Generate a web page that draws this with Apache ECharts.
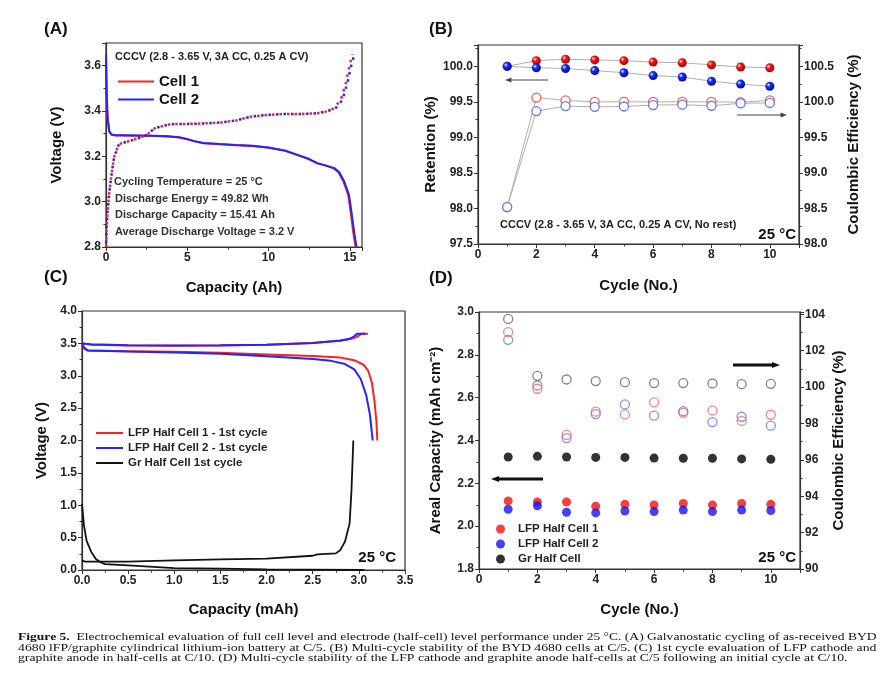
<!DOCTYPE html>
<html>
<head>
<meta charset="utf-8">
<script src="https://cdn.jsdelivr.net/npm/echarts@6/dist/echarts.min.js"></script>
<style>
  html, body { margin: 0; padding: 0; background: #fff; }
  #main { width: 896px; height: 691px; }
</style>
</head>
<body>
<div id="main"></div>
<script>
// ---- (A) full cell galvanostatic curves ----
const capDis1 = [0, 0.02, 0.05, 0.1, 0.2, 0.35, 0.6, 1, 2, 3, 3.8, 4.5, 5, 5.5, 6, 7, 8, 9, 10, 11, 12, 12.5, 13, 13.5, 14, 14.3, 14.6, 14.9, 15.08, 15.22, 15.36];
const vDis1   = [3.65, 3.55, 3.45, 3.37, 3.31, 3.295, 3.292, 3.292, 3.291, 3.29, 3.288, 3.283, 3.275, 3.265, 3.258, 3.253, 3.249, 3.246, 3.238, 3.225, 3.2, 3.187, 3.169, 3.159, 3.147, 3.13, 3.09, 3.03, 2.94, 2.86, 2.8];
const capDis2 = [0, 0.02, 0.05, 0.1, 0.2, 0.35, 0.6, 1, 2, 3, 3.8, 4.5, 5, 5.5, 6, 7, 8, 9, 10, 11, 12, 12.5, 13, 13.5, 14.05, 14.35, 14.65, 14.95, 15.13, 15.28, 15.41];
const vDis2   = [3.65, 3.55, 3.45, 3.37, 3.31, 3.296, 3.293, 3.293, 3.292, 3.291, 3.289, 3.284, 3.276, 3.266, 3.259, 3.254, 3.25, 3.247, 3.239, 3.226, 3.201, 3.188, 3.17, 3.16, 3.148, 3.13, 3.09, 3.03, 2.94, 2.86, 2.8];
const capChg1 = [0, 0.03, 0.1, 0.2, 0.35, 0.5, 0.8, 1.5, 2, 2.5, 3, 3.5, 4, 5, 6, 7, 8, 8.5, 9, 10, 11, 12, 13, 13.5, 14, 14.45, 14.75, 14.95, 15.15];
const vChg1   = [2.8, 2.88, 2.96, 3.04, 3.125, 3.198, 3.254, 3.269, 3.28, 3.294, 3.324, 3.334, 3.342, 3.343, 3.345, 3.349, 3.358, 3.368, 3.376, 3.383, 3.387, 3.387, 3.39, 3.397, 3.411, 3.449, 3.523, 3.59, 3.65];
const capChg2 = [0, 0.03, 0.1, 0.2, 0.35, 0.5, 0.8, 1.5, 2, 2.5, 3, 3.5, 4, 5, 6, 7, 8, 8.5, 9, 10, 11, 12, 13, 13.5, 14.1, 14.55, 14.85, 15.05, 15.28];
const vChg2   = [2.8, 2.88, 2.96, 3.04, 3.125, 3.198, 3.254, 3.269, 3.28, 3.294, 3.324, 3.334, 3.342, 3.343, 3.345, 3.349, 3.358, 3.368, 3.376, 3.383, 3.387, 3.387, 3.39, 3.397, 3.411, 3.449, 3.523, 3.59, 3.65];

// ---- (B) multi-cycle full cell ----
const cyclesB = [1, 2, 3, 4, 5, 6, 7, 8, 9, 10];
const retention1 = [100.0, 100.08, 100.10, 100.09, 100.08, 100.06, 100.05, 100.02, 99.99, 99.98];
const retention2 = [100.0, 99.98, 99.97, 99.94, 99.91, 99.87, 99.85, 99.79, 99.75, 99.72];
const ceFull1 = [98.52, 100.06, 100.02, 100.0, 100.0, 100.0, 100.0, 100.0, 99.995, 100.02];
const ceFull2 = [98.52, 99.87, 99.94, 99.93, 99.935, 99.955, 99.96, 99.945, 99.98, 99.985];

// ---- (C) half cell first cycle ----
const lfp1ChgCap = [0, 0.1, 0.5, 1.0, 1.5, 2.0, 2.5, 2.8, 2.92, 2.98, 3.03, 3.1];
const lfp1ChgV   = [3.5, 3.48, 3.468, 3.465, 3.468, 3.478, 3.505, 3.54, 3.57, 3.6, 3.65, 3.65];
const lfp1DisCap = [0, 0.03, 0.07, 0.5, 1.0, 1.5, 2.0, 2.5, 2.8, 2.95, 3.05, 3.1, 3.14, 3.17, 3.19, 3.2];
const lfp1DisV   = [3.48, 3.41, 3.39, 3.38, 3.37, 3.355, 3.33, 3.305, 3.28, 3.24, 3.17, 3.08, 2.9, 2.6, 2.3, 2.0];
const lfp2ChgCap = [0, 0.1, 0.5, 1.0, 1.5, 2.0, 2.5, 2.8, 2.9, 2.95, 2.98, 3.07];
const lfp2ChgV   = [3.5, 3.485, 3.47, 3.468, 3.47, 3.48, 3.505, 3.545, 3.57, 3.61, 3.65, 3.65];
const lfp2DisCap = [0, 0.02, 0.06, 0.5, 1.0, 1.5, 2.0, 2.5, 2.7, 2.85, 2.95, 3.02, 3.08, 3.12, 3.15];
const lfp2DisV   = [3.5, 3.44, 3.39, 3.375, 3.36, 3.34, 3.30, 3.26, 3.23, 3.18, 3.1, 2.95, 2.7, 2.4, 2.0];
const grLithCap = [0, 0.02, 0.05, 0.1, 0.15, 0.2, 0.25, 0.5, 1.0, 1.5, 2.0, 2.5, 3.06];
const grLithV   = [1.02, 0.7, 0.45, 0.28, 0.17, 0.12, 0.09, 0.07, 0.03, 0.02, 0.01, 0.005, 0.0];
const grDelCap = [0, 0.03, 0.5, 1.0, 1.5, 2.0, 2.5, 2.55, 2.75, 2.8, 2.85, 2.9, 2.92, 2.94];
const grDelV   = [0.15, 0.13, 0.128, 0.149, 0.165, 0.175, 0.22, 0.24, 0.257, 0.31, 0.44, 0.72, 1.23, 2.0];

// ---- (D) half cell multi-cycle ----
const cyclesD = [1, 2, 3, 4, 5, 6, 7, 8, 9, 10];
const areal1 = [2.118, 2.113, 2.113, 2.093, 2.102, 2.099, 2.106, 2.099, 2.106, 2.102];
const areal2 = [2.079, 2.095, 2.065, 2.062, 2.071, 2.068, 2.075, 2.068, 2.075, 2.073];
const arealGr = [2.323, 2.326, 2.323, 2.321, 2.321, 2.318, 2.317, 2.317, 2.314, 2.312];
const ceHalf1 = [103.02, 99.91, 97.37, 98.65, 98.5, 99.16, 98.59, 98.72, 98.14, 98.48];
const ceHalf2 = [102.6, 100.09, 97.2, 98.52, 99.05, 98.43, 98.68, 98.08, 98.37, 97.88];
const ceHalfGr = [103.75, 100.62, 100.42, 100.33, 100.27, 100.22, 100.22, 100.2, 100.16, 100.18];

const SANS = 'Liberation Sans, Arial, sans-serif';
const SERIF = 'Liberation Serif, serif';
const RED = '#ff2020', BLUE = '#2424ff';

function pairs(xs, ys) { return xs.map((x, i) => [x, ys[i]]); }

// labels only at multiples of the step (hides the extra end tick)
function fmt(step, dec) {
  return function (v) {
    return Math.abs(v / step - Math.round(v / step)) < 1e-6 ? v.toFixed(dec) : '';
  };
}

function axis(o) {
  return Object.assign({
    type: 'value',
    axisLine: { show: true, onZero: false, lineStyle: { color: '#333', width: 1.2 } },
    axisTick: { show: true, inside: false, length: 4, lineStyle: { color: '#333' } },
    minorTick: { show: true, splitNumber: 2, length: 2.5, lineStyle: { color: '#333' } },
    splitLine: { show: false },
    nameLocation: 'middle',
    nameTextStyle: { color: '#111', fontSize: 15, fontWeight: 'bold', fontFamily: SANS }
  }, o);
}

function label(f) {
  return { color: '#222', fontSize: 12, fontWeight: 'bold', fontFamily: SANS, margin: 5, formatter: f };
}

function sphere(c1, c2) {
  return {
    type: 'radial', x: 0.35, y: 0.35, r: 0.75,
    colorStops: [{ offset: 0, color: '#ffffff' }, { offset: 0.3, color: c1 }, { offset: 1, color: c2 }]
  };
}

function arrow(x1, x2, y, w, head, color) {
  const dir = x2 > x1 ? 1 : -1;
  return [
    { type: 'line', shape: { x1: x1, y1: y, x2: x2 - dir * head, y2: y }, style: { stroke: color, lineWidth: w } },
    { type: 'polygon', shape: { points: [[x2, y], [x2 - dir * head * 1.6, y - head * 0.6], [x2 - dir * head * 1.6, y + head * 0.6]] }, style: { fill: color } }
  ];
}

function txt(x, y, s, font, align, color) {
  return { type: 'text', x: x, y: y, style: { text: s, font: font, fill: color || '#222', textAlign: align || 'left', textVerticalAlign: 'middle' } };
}

// caption line, stretched to the justified width of the printed figure
function capLine(y, s, sx) {
  return { type: 'text', x: 18, y: y, scaleX: sx, style: {
    text: s, rich: { b: { fontWeight: 'bold', fontFamily: SERIF, fontSize: 11 } },
    fontFamily: SERIF, fontSize: 11, fill: '#111', textVerticalAlign: 'middle' } };
}

const myChart = echarts.init(document.getElementById('main'));

const option = {
  animation: false,
  backgroundColor: '#fff',
  grid: [
    { left: 106, top: 43, width: 256, height: 204, show: true, borderColor: '#333', borderWidth: 1.2 },
    { left: 478, top: 45, width: 321, height: 199, show: true, borderColor: '#333', borderWidth: 1.2 },
    { left: 82, top: 311, width: 323, height: 259, show: true, borderColor: '#333', borderWidth: 1.2 },
    { left: 479, top: 312, width: 321, height: 257, show: true, borderColor: '#333', borderWidth: 1.2 }
  ],
  xAxis: [
    axis({ gridIndex: 0, min: 0, max: 15.75, interval: 5, name: 'Capacity (Ah)', nameGap: 33, axisLabel: label(fmt(5, 0)) }),
    axis({ gridIndex: 1, min: 0, max: 11, interval: 2, name: 'Cycle (No.)', nameGap: 34, axisLabel: label(fmt(2, 0)) }),
    axis({ gridIndex: 2, min: 0, max: 3.5, interval: 0.5, name: 'Capacity (mAh)', nameGap: 32, axisLabel: label(fmt(0.5, 1)) }),
    axis({ gridIndex: 3, min: 0, max: 11, interval: 2, name: 'Cycle (No.)', nameGap: 33, axisLabel: label(fmt(2, 0)) })
  ],
  yAxis: [
    axis({ gridIndex: 0, min: 2.8, max: 3.7, interval: 0.2, name: 'Voltage (V)', nameGap: 42, axisLabel: label(fmt(0.2, 1)) }),
    axis({ gridIndex: 1, min: 97.5, max: 100.3, interval: 0.5, name: 'Retention (%)', nameGap: 40, axisLabel: label(fmt(0.5, 1)) }),
    axis({ gridIndex: 1, position: 'right', min: 98.0, max: 100.8, interval: 0.5, name: 'Coulombic Efficiency (%)', nameGap: 47, axisLabel: label(fmt(0.5, 1)) }),
    axis({ gridIndex: 2, min: 0, max: 4, interval: 0.5, name: 'Voltage (V)', nameGap: 33, axisLabel: label(fmt(0.5, 1)) }),
    axis({ gridIndex: 3, min: 1.8, max: 3.0, interval: 0.2, name: 'Areal Capacity (mAh cm\u207B\u00B2)', nameGap: 36, axisLabel: label(fmt(0.2, 1)) }),
    axis({ gridIndex: 3, position: 'right', min: 90, max: 104.13, interval: 2, name: 'Coulombic Efficiency (%)', nameGap: 31, axisLabel: label(fmt(2, 0)) })
  ],
  legend: [
    { left: 112, top: 69, orient: 'vertical', itemWidth: 36, itemHeight: 14, itemGap: 3,
      itemStyle: { opacity: 0 },
      data: ['Cell 1', 'Cell 2'],
      textStyle: { fontSize: 15, fontWeight: 'bold', fontFamily: SANS, color: '#111' } },
    { left: 90, top: 422, orient: 'vertical', itemWidth: 27, itemHeight: 12, itemGap: 3,
      itemStyle: { opacity: 0 },
      data: ['LFP Half Cell 1 - 1st cycle', 'LFP Half Cell 2 - 1st cycle', 'Gr Half Cell 1st cycle'],
      textStyle: { fontSize: 11.5, fontWeight: 'bold', fontFamily: SANS, color: '#222' } },
    { left: 491, top: 518, orient: 'vertical', itemWidth: 9, itemHeight: 9, itemGap: 3, icon: 'circle',
      data: ['LFP Half Cell 1', 'LFP Half Cell 2', 'Gr Half Cell'],
      textStyle: { fontSize: 11.5, fontWeight: 'bold', fontFamily: SANS, color: '#222', padding: [0, 0, 0, 8] } }
  ],
  series: [
    // (A)
    { name: 'Cell 1', type: 'line', xAxisIndex: 0, yAxisIndex: 0, symbol: 'none', color: RED,
      lineStyle: { color: RED, width: 2 }, data: pairs(capDis1, vDis1) },
    { name: 'Cell 2', type: 'line', xAxisIndex: 0, yAxisIndex: 0, symbol: 'none', color: BLUE,
      lineStyle: { color: BLUE, width: 2 }, data: pairs(capDis2, vDis2) },
    { name: 'Cell 1', type: 'line', xAxisIndex: 0, yAxisIndex: 0, symbol: 'none', color: RED,
      lineStyle: { color: RED, width: 2.5, type: [2.5, 5] }, data: pairs(capChg1, vChg1) },
    { name: 'Cell 2', type: 'line', xAxisIndex: 0, yAxisIndex: 0, symbol: 'none', color: BLUE,
      lineStyle: { color: BLUE, width: 2.5, type: [2.5, 5], dashOffset: 3.5 }, data: pairs(capChg2, vChg2) },

    // (B)
    { name: 'Retention 1', type: 'line', xAxisIndex: 1, yAxisIndex: 1, symbol: 'circle', symbolSize: 9,
      lineStyle: { color: '#b0b0b0', width: 1 }, itemStyle: { color: sphere('#f01818', '#a00000') },
      data: pairs(cyclesB, retention1) },
    { name: 'Retention 2', type: 'line', xAxisIndex: 1, yAxisIndex: 1, symbol: 'circle', symbolSize: 9,
      lineStyle: { color: '#b0b0b0', width: 1 }, itemStyle: { color: sphere('#1830f0', '#0000a0') },
      data: pairs(cyclesB, retention2) },
    { name: 'CE 1', type: 'line', xAxisIndex: 1, yAxisIndex: 2, symbol: 'circle', symbolSize: 9,
      lineStyle: { color: '#b0b0b0', width: 1 }, itemStyle: { color: '#fff', borderColor: '#f06060', borderWidth: 1.3 },
      data: pairs(cyclesB, ceFull1) },
    { name: 'CE 2', type: 'line', xAxisIndex: 1, yAxisIndex: 2, symbol: 'circle', symbolSize: 9,
      lineStyle: { color: '#b0b0b0', width: 1 }, itemStyle: { color: '#fff', borderColor: '#6a78f0', borderWidth: 1.3 },
      data: pairs(cyclesB, ceFull2) },

    // (C)
    { name: 'LFP Half Cell 1 - 1st cycle', type: 'line', xAxisIndex: 2, yAxisIndex: 3, symbol: 'none', color: RED,
      lineStyle: { color: RED, width: 2 }, data: pairs(lfp1ChgCap, lfp1ChgV) },
    { name: 'LFP Half Cell 1 - 1st cycle', type: 'line', xAxisIndex: 2, yAxisIndex: 3, symbol: 'none', color: RED,
      lineStyle: { color: RED, width: 2 }, data: pairs(lfp1DisCap, lfp1DisV) },
    { name: 'LFP Half Cell 2 - 1st cycle', type: 'line', xAxisIndex: 2, yAxisIndex: 3, symbol: 'none', color: BLUE,
      lineStyle: { color: BLUE, width: 2 }, data: pairs(lfp2ChgCap, lfp2ChgV) },
    { name: 'LFP Half Cell 2 - 1st cycle', type: 'line', xAxisIndex: 2, yAxisIndex: 3, symbol: 'none', color: BLUE,
      lineStyle: { color: BLUE, width: 2 }, data: pairs(lfp2DisCap, lfp2DisV) },
    { name: 'Gr Half Cell 1st cycle', type: 'line', xAxisIndex: 2, yAxisIndex: 3, symbol: 'none', color: '#111',
      lineStyle: { color: '#111', width: 1.8 }, data: pairs(grLithCap, grLithV) },
    { name: 'Gr Half Cell 1st cycle', type: 'line', xAxisIndex: 2, yAxisIndex: 3, symbol: 'none', color: '#111',
      lineStyle: { color: '#111', width: 1.8 }, data: pairs(grDelCap, grDelV) },

    // (D)
    { name: 'CE Gr', type: 'scatter', xAxisIndex: 3, yAxisIndex: 5, symbol: 'circle', symbolSize: 9,
      itemStyle: { color: 'rgba(255,255,255,0)', borderColor: '#666', borderWidth: 1.3 }, data: pairs(cyclesD, ceHalfGr) },
    { name: 'CE LFP 2', type: 'scatter', xAxisIndex: 3, yAxisIndex: 5, symbol: 'circle', symbolSize: 9,
      itemStyle: { color: 'rgba(255,255,255,0)', borderColor: '#7070f0', borderWidth: 1.3 }, data: pairs(cyclesD, ceHalf2) },
    { name: 'CE LFP 1', type: 'scatter', xAxisIndex: 3, yAxisIndex: 5, symbol: 'circle', symbolSize: 9,
      itemStyle: { color: 'rgba(255,255,255,0)', borderColor: '#f06a6a', borderWidth: 1.3 }, data: pairs(cyclesD, ceHalf1) },
    { name: 'LFP Half Cell 1', type: 'scatter', xAxisIndex: 3, yAxisIndex: 4, symbol: 'circle', symbolSize: 9,
      color: '#f01010', itemStyle: { color: '#f01010' }, data: pairs(cyclesD, areal1) },
    { name: 'LFP Half Cell 2', type: 'scatter', xAxisIndex: 3, yAxisIndex: 4, symbol: 'circle', symbolSize: 9,
      color: '#1414f0', itemStyle: { color: '#1414f0' }, data: pairs(cyclesD, areal2) },
    { name: 'Gr Half Cell', type: 'scatter', xAxisIndex: 3, yAxisIndex: 4, symbol: 'circle', symbolSize: 9,
      color: '#000', itemStyle: { color: '#000' }, data: pairs(cyclesD, arealGr) }
  ],
  graphic: [
    // panel letters
    txt(44, 29, '(A)', 'bold 17px ' + SANS, 'left', '#111'),
    txt(429, 29, '(B)', 'bold 17px ' + SANS, 'left', '#111'),
    txt(44, 277, '(C)', 'bold 17px ' + SANS, 'left', '#111'),
    txt(429, 278, '(D)', 'bold 17px ' + SANS, 'left', '#111'),

    // (A) notes
    txt(115, 57, 'CCCV (2.8 - 3.65 V, 3A CC, 0.25 A CV)', 'bold 11px ' + SANS),
    txt(114, 182, 'Cycling Temperature = 25 \u00B0C', 'bold 11px ' + SANS, 'left', '#333'),
    txt(115, 199, 'Discharge Energy = 49.82 Wh', 'bold 11px ' + SANS, 'left', '#333'),
    txt(115, 215, 'Discharge Capacity = 15.41 Ah', 'bold 11px ' + SANS, 'left', '#333'),
    txt(115, 232, 'Average Discharge Voltage = 3.2 V', 'bold 11px ' + SANS, 'left', '#333'),

    // (B) notes
    txt(500, 225, 'CCCV (2.8 - 3.65 V, 3A CC, 0.25 A CV, No rest)', 'bold 11px ' + SANS),
    txt(796, 235, '25 \u00B0C', 'bold 15px ' + SANS, 'right', '#111'),
    ...arrow(548, 505, 80, 1, 4, '#444'),
    ...arrow(737, 787, 115, 1, 4, '#444'),

    // (C) notes
    txt(396, 558, '25 \u00B0C', 'bold 15px ' + SANS, 'right', '#111'),

    // (D) notes
    txt(796, 558, '25 \u00B0C', 'bold 15px ' + SANS, 'right', '#111'),
    ...arrow(733, 780, 365, 3, 5, '#111'),
    ...arrow(543, 491, 479, 3, 5, '#111'),

    // caption
    capLine(637, '{b|Figure 5.}  Electrochemical evaluation of full cell level and electrode (half-cell) level performance under 25 \u00B0C. (A) Galvanostatic cycling of as-received BYD', 1.232),
    capLine(648, '4680 lFP/graphite cylindrical lithium-ion battery at C/5. (B) Multi-cycle stability of the BYD 4680 cells at C/5. (C) 1st cycle evaluation of LFP cathode and', 1.25),
    capLine(658, 'graphite anode in half-cells at C/10. (D) Multi-cycle stability of the LFP cathode and graphite anode half-cells at C/5 following an initial cycle at C/10.', 1.248)
  ]
};

myChart.setOption(option);
window.onresize = () => { myChart.resize(); };
</script>
</body>
</html>
